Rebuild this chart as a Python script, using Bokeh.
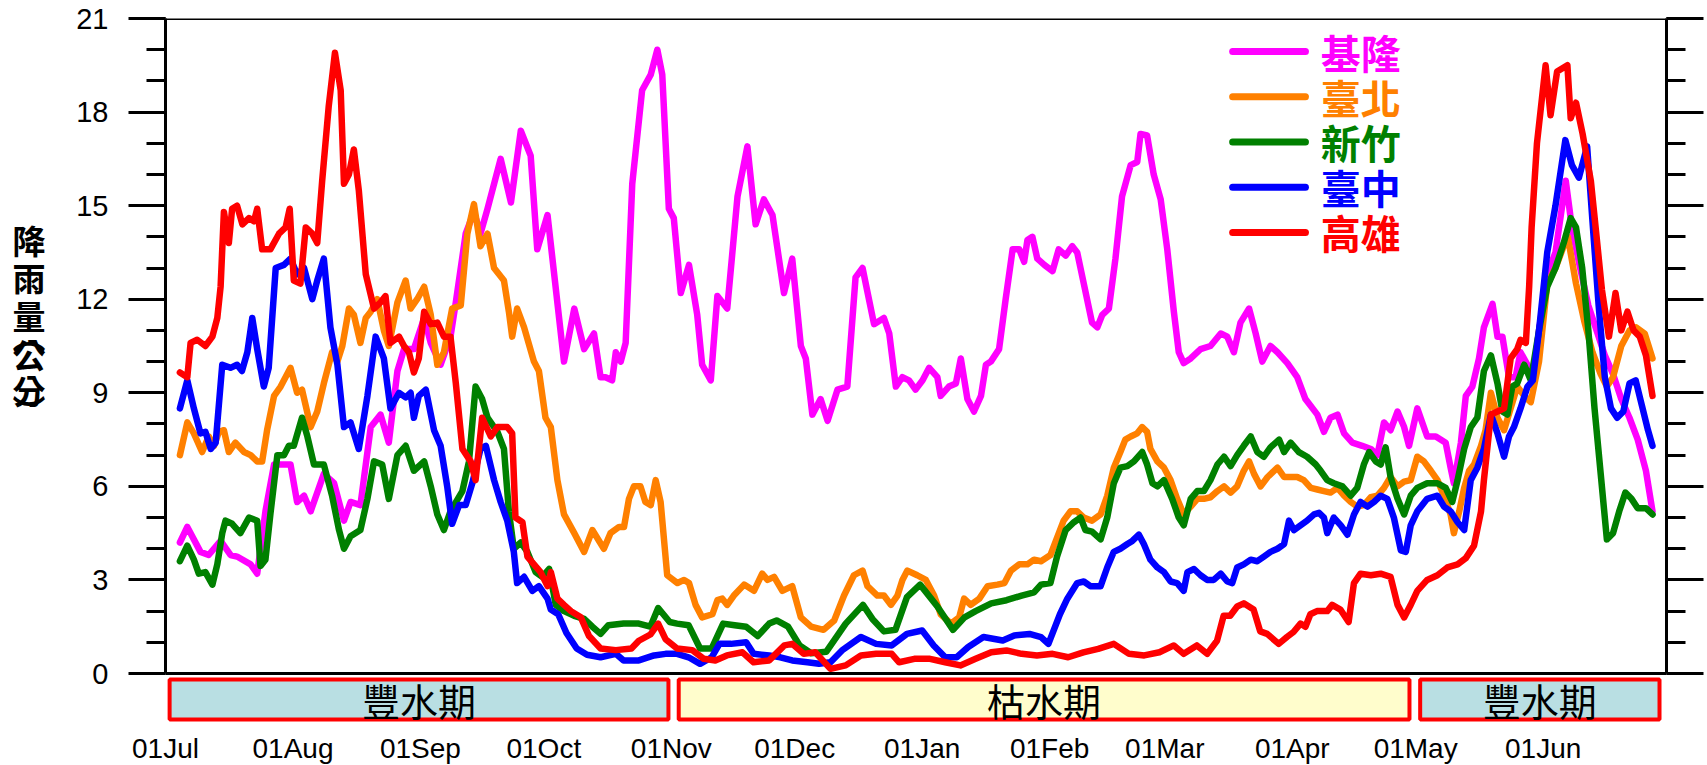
from bokeh.plotting import figure
from bokeh.models import (LinearAxis, FixedTicker, Span, Range1d, AllLabels,
                          CustomJSTickFormatter)
from bokeh.core.properties import value
from bokeh.embed import file_html
from bokeh.resources import INLINE

# ---------------- data ----------------
month_ticks = [0, 31, 62, 92, 123, 153, 184, 215, 243, 274, 304, 335]
month_labels = ["01Jul", "01Aug", "01Sep", "01Oct", "01Nov", "01Dec",
                "01Jan", "01Feb", "01Mar", "01Apr", "01May", "01Jun"]
y_ticks = [0, 3, 6, 9, 12, 15, 18, 21]
# y title 降雨量(公分) written vertically (brackets in vertical form)
y_title_chars = ["降", "雨", "量", "︵", "公", "分", "︶"]

station_names = ["基隆", "臺北", "新竹", "臺中", "高雄"]
station_colors = ["#ff00ff", "#ff8000", "#008000", "#0000ff", "#ff0000"]

season_names = ["豐水期", "枯水期", "豐水期"]
season_start = [1.0, 124.8, 305.1]
season_end = [122.3, 302.5, 363.3]
season_fill = ["#b9dfe3", "#fffdcc", "#b9dfe3"]

keelung_day = [3.5, 5.3, 8.5, 10.5, 13.4, 15.8, 17.4, 20.7, 22.3, 24.3, 26.4, 30.4, 32.0, 33.7, 35.3, 38.5, 41.0, 43.4, 45.0, 47.4, 49.9, 52.3, 54.3, 56.4, 58.0, 60.4, 62.9, 64.5, 66.9, 69.3, 70.6, 73.0, 75.0, 76.6, 78.3, 81.5, 84.0, 86.4, 88.8, 90.4, 92.9, 96.9, 99.4, 101.8, 104.2, 105.8, 107.0, 108.6, 109.5, 110.7, 111.9, 113.5, 115.9, 118.0, 119.6, 120.8, 122.4, 123.6, 125.3, 127.3, 129.3, 130.5, 132.6, 134.2, 136.6, 139.1, 141.5, 143.5, 145.5, 147.6, 150.4, 152.4, 154.5, 155.7, 157.3, 159.3, 161.0, 163.4, 165.8, 167.8, 169.5, 172.3, 174.7, 176.0, 177.6, 179.2, 180.8, 182.4, 184.1, 185.7, 187.7, 188.5, 190.5, 192.2, 193.4, 195.0, 196.6, 198.3, 199.5, 200.7, 202.7, 204.3, 206.0, 207.6, 208.8, 209.6, 210.8, 212.0, 213.7, 215.7, 217.2, 218.9, 220.5, 221.7, 223.3, 225.3, 226.6, 227.8, 229.4, 231.0, 232.6, 234.7, 236.3, 237.1, 238.7, 240.3, 242.0, 243.6, 245.2, 246.4, 247.6, 249.3, 251.7, 254.1, 256.6, 258.2, 259.8, 261.4, 263.5, 265.1, 266.7, 268.7, 270.4, 272.8, 275.2, 277.2, 280.1, 281.7, 283.3, 285.0, 286.6, 288.6, 291.0, 293.1, 294.7, 296.3, 297.9, 299.6, 301.2, 302.4, 304.4, 306.8, 308.9, 311.3, 312.5, 313.3, 315.0, 316.2, 317.8, 319.4, 320.6, 322.7, 323.9, 325.1, 326.7, 328.3, 329.5, 331.2, 332.5, 334.0, 336.0, 338.0, 340.5, 342.0, 344.0, 346.0, 348.0, 350.0, 352.0, 354.0, 356.0, 358.0, 360.0, 361.6]
keelung_rain = [4.2, 4.7, 3.9, 3.8, 4.25, 3.8, 3.75, 3.5, 3.2, 5.2, 6.7, 6.7, 5.5, 5.7, 5.2, 6.4, 6.1, 4.9, 5.5, 5.4, 7.9, 8.3, 7.4, 9.7, 10.4, 10.4, 11.4, 10.6, 9.9, 10.8, 11.9, 14.1, 14.8, 14.1, 14.9, 16.5, 15.1, 17.4, 16.6, 13.6, 14.7, 10.0, 11.7, 10.4, 10.9, 9.5, 9.5, 9.4, 10.3, 10.0, 10.6, 15.7, 18.7, 19.2, 20.0, 19.2, 14.9, 14.6, 12.2, 13.1, 11.5, 9.9, 9.4, 12.1, 11.7, 15.3, 16.9, 14.4, 15.2, 14.7, 12.2, 13.3, 10.5, 10.1, 8.3, 8.8, 8.1, 9.1, 9.2, 12.7, 13.0, 11.2, 11.4, 10.9, 9.2, 9.5, 9.4, 9.1, 9.4, 9.8, 9.5, 8.9, 9.2, 9.3, 10.1, 8.8, 8.4, 8.9, 9.9, 10.0, 10.4, 12.0, 13.6, 13.6, 13.2, 13.9, 14.0, 13.3, 13.1, 12.9, 13.6, 13.4, 13.7, 13.5, 12.5, 11.25, 11.1, 11.5, 11.7, 13.3, 15.3, 16.3, 16.4, 17.3, 17.25, 16.0, 15.2, 13.6, 11.6, 10.3, 9.95, 10.1, 10.4, 10.5, 10.9, 10.8, 10.3, 11.25, 11.7, 10.9, 10.0, 10.5, 10.3, 9.95, 9.5, 8.8, 8.3, 7.75, 8.2, 8.3, 7.7, 7.4, 7.3, 7.2, 7.0, 8.05, 7.8, 8.4, 7.9, 7.3, 8.5, 7.6, 7.6, 7.4, 6.6, 6.1, 7.4, 8.9, 9.2, 10.1, 11.1, 11.85, 10.8, 10.8, 9.5, 9.5, 10.3, 9.9, 9.4, 11.0, 12.8, 13.5, 15.8, 14.3, 13.0, 11.8, 11.0, 10.2, 9.6, 8.8, 8.2, 7.5, 6.5, 5.2]

taipei_day = [3.5, 5.3, 6.9, 8.9, 10.5, 11.8, 13.0, 14.2, 15.4, 17.0, 19.1, 20.7, 22.3, 23.5, 24.7, 26.4, 28.0, 30.4, 32.0, 33.2, 35.3, 36.9, 38.5, 40.5, 41.8, 43.0, 44.6, 45.8, 47.4, 48.7, 49.9, 51.5, 53.1, 54.3, 56.4, 58.4, 59.6, 61.2, 62.9, 64.5, 66.1, 67.7, 69.7, 71.8, 73.4, 75.0, 76.6, 78.3, 79.9, 82.3, 83.5, 84.3, 85.5, 87.2, 89.6, 90.8, 92.4, 93.7, 95.3, 96.9, 99.4, 101.8, 103.8, 106.6, 108.2, 110.3, 111.5, 112.7, 113.9, 115.5, 116.7, 118.0, 119.2, 120.4, 122.0, 124.5, 126.1, 127.3, 128.9, 130.5, 133.0, 134.2, 135.4, 136.6, 138.2, 140.7, 143.1, 145.1, 146.4, 148.0, 150.0, 152.4, 154.5, 157.0, 160.0, 162.6, 165.0, 167.4, 169.5, 170.7, 173.1, 174.7, 176.4, 178.0, 179.2, 180.4, 182.8, 184.9, 186.9, 188.5, 191.0, 193.0, 194.2, 195.8, 197.9, 199.9, 202.3, 204.0, 205.6, 207.6, 209.6, 211.2, 212.9, 215.2, 218.4, 220.1, 221.7, 223.3, 225.3, 227.4, 229.0, 230.6, 232.2, 233.4, 234.7, 236.3, 237.5, 238.7, 239.5, 241.2, 242.8, 244.4, 246.0, 247.6, 249.3, 250.9, 252.5, 254.1, 255.8, 257.4, 259.0, 260.6, 262.2, 263.5, 264.7, 266.3, 268.0, 270.4, 272.0, 273.6, 275.2, 276.8, 278.5, 280.1, 281.7, 283.3, 285.0, 286.6, 288.2, 289.8, 291.4, 293.1, 294.7, 296.3, 297.9, 299.6, 301.2, 302.8, 304.4, 306.0, 307.7, 309.3, 310.9, 312.5, 313.3, 314.6, 315.8, 317.0, 318.2, 319.9, 321.0, 322.3, 323.9, 325.5, 327.1, 328.7, 330.4, 332.0, 334.0, 336.0, 338.0, 340.0, 341.0, 343.0, 345.0, 347.0, 349.0, 350.5, 352.0, 354.0, 356.0, 357.6, 359.7, 361.6]
taipei_rain = [7.0, 8.05, 7.7, 7.1, 7.6, 7.3, 7.75, 7.8, 7.1, 7.4, 7.1, 7.0, 6.8, 6.8, 7.8, 8.9, 9.2, 9.8, 9.0, 9.1, 7.9, 8.4, 9.3, 10.3, 10.0, 10.5, 11.7, 11.5, 10.6, 11.4, 11.6, 12.0, 11.0, 10.5, 11.9, 12.6, 11.7, 12.0, 12.4, 11.5, 9.9, 10.3, 11.7, 11.8, 14.1, 15.05, 13.7, 14.1, 13.0, 12.6, 11.6, 10.8, 11.7, 11.1, 10.0, 9.7, 8.2, 7.9, 6.2, 5.1, 4.5, 3.9, 4.6, 4.0, 4.5, 4.7, 4.7, 5.6, 6.0, 6.0, 5.5, 5.4, 6.2, 5.5, 3.15, 2.9, 3.0, 2.9, 2.2, 1.8, 1.9, 2.35, 2.4, 2.2, 2.5, 2.85, 2.65, 3.2, 3.0, 3.1, 2.65, 2.8, 1.8, 1.5, 1.4, 1.7, 2.5, 3.15, 3.3, 2.8, 2.5, 2.5, 2.2, 2.5, 3.0, 3.3, 3.15, 3.0, 2.5, 1.9, 1.6, 1.8, 2.4, 2.2, 2.4, 2.8, 2.85, 2.9, 3.3, 3.5, 3.5, 3.65, 3.6, 3.8, 4.9, 5.2, 5.2, 5.0, 4.9, 5.1, 5.7, 6.6, 7.1, 7.5, 7.6, 7.7, 7.9, 7.75, 7.2, 6.8, 6.6, 6.2, 5.6, 5.1, 5.35, 5.6, 5.6, 5.65, 5.85, 6.0, 5.8, 6.0, 6.5, 6.8, 6.4, 6.0, 6.3, 6.6, 6.3, 6.3, 6.3, 6.2, 5.95, 5.9, 5.85, 5.8, 5.95, 5.7, 5.5, 5.35, 5.4, 5.65, 5.7, 5.95, 6.3, 6.0, 6.15, 6.2, 6.95, 6.8, 6.5, 6.2, 5.7, 5.1, 4.5, 5.2, 5.95, 6.5, 6.7, 7.3, 7.8, 9.0, 8.2, 7.8, 8.5, 9.2, 8.9, 8.7, 10.0, 12.5, 13.0, 13.7, 14.0, 12.5, 11.3, 10.3, 9.6, 9.2, 9.5, 10.5, 11.0, 11.1, 10.9, 10.1]

hsinchu_day = [3.5, 5.3, 6.9, 8.1, 9.7, 11.4, 12.6, 13.8, 14.6, 16.2, 18.2, 20.3, 22.3, 23.1, 24.3, 25.5, 27.2, 28.8, 30.0, 31.2, 33.2, 34.5, 36.1, 38.5, 40.5, 42.2, 43.4, 45.0, 47.4, 49.1, 50.7, 52.7, 54.3, 56.4, 58.4, 60.4, 62.9, 64.5, 66.1, 67.7, 69.3, 72.2, 73.8, 75.4, 77.0, 78.3, 80.7, 82.3, 83.5, 84.7, 86.4, 88.0, 90.0, 91.6, 93.3, 94.9, 96.9, 99.4, 101.8, 103.8, 105.8, 107.7, 111.4, 115.1, 117.9, 119.8, 122.6, 124.4, 127.2, 130.0, 132.8, 135.6, 138.4, 141.2, 144.0, 146.8, 148.6, 151.4, 154.2, 157.0, 160.7, 165.4, 169.6, 171.9, 174.7, 177.5, 180.3, 183.5, 187.7, 191.5, 194.3, 197.0, 200.8, 204.5, 208.2, 211.2, 212.9, 215.2, 216.8, 218.9, 220.9, 222.5, 223.7, 225.3, 227.4, 229.0, 230.6, 232.2, 233.9, 235.5, 237.5, 238.7, 240.0, 241.2, 242.8, 244.8, 246.4, 247.6, 249.3, 250.9, 252.5, 254.1, 255.8, 257.4, 259.0, 260.6, 262.2, 263.9, 265.5, 267.1, 268.7, 270.8, 272.0, 273.6, 275.6, 277.6, 279.7, 280.9, 282.5, 284.1, 286.2, 288.2, 289.8, 291.4, 292.7, 294.3, 295.5, 296.7, 297.9, 299.6, 301.2, 302.8, 304.4, 306.8, 309.3, 311.3, 312.9, 314.2, 315.8, 317.4, 319.0, 320.6, 322.3, 323.9, 325.1, 326.3, 327.5, 328.7, 330.4, 332.0, 334.0, 336.0, 338.0, 340.0, 341.7, 343.0, 344.5, 346.0, 347.5, 349.0, 350.5, 352.0, 353.5, 355.0, 356.5, 358.0, 360.0, 361.6]
hsinchu_rain = [3.6, 4.1, 3.65, 3.2, 3.25, 2.85, 3.5, 4.5, 4.9, 4.8, 4.5, 5.0, 4.9, 3.45, 3.65, 5.1, 7.0, 7.0, 7.3, 7.3, 8.2, 7.6, 6.7, 6.7, 5.7, 4.6, 4.0, 4.4, 4.6, 5.6, 6.8, 6.7, 5.6, 7.0, 7.3, 6.5, 6.8, 6.0, 5.1, 4.6, 5.2, 5.85, 6.8, 9.2, 8.8, 8.2, 7.75, 7.2, 5.2, 4.0, 4.2, 3.9, 3.25, 3.1, 3.35, 2.2, 2.0, 1.85, 1.75, 1.5, 1.27, 1.55, 1.6, 1.6, 1.5, 2.1, 1.65, 1.6, 1.55, 0.8, 0.8, 1.6, 1.55, 1.5, 1.2, 1.6, 1.7, 1.5, 0.9, 0.65, 0.7, 1.6, 2.2, 1.75, 1.35, 1.4, 2.45, 2.85, 2.15, 1.4, 1.8, 2.0, 2.25, 2.35, 2.5, 2.6, 2.85, 2.9, 3.75, 4.6, 4.85, 5.0, 4.6, 4.55, 4.3, 5.0, 6.1, 6.6, 6.65, 6.8, 7.1, 6.7, 6.1, 6.0, 6.2, 5.6, 5.0, 4.75, 5.6, 5.85, 5.85, 6.2, 6.7, 6.95, 6.65, 7.0, 7.3, 7.6, 7.1, 6.95, 7.25, 7.5, 7.1, 7.4, 7.1, 6.95, 6.7, 6.5, 6.2, 6.1, 6.0, 5.7, 5.95, 6.7, 7.1, 6.8, 6.7, 7.25, 6.3, 5.6, 5.1, 5.7, 5.95, 6.1, 6.1, 5.95, 5.5, 6.2, 7.2, 7.9, 8.2, 9.7, 10.2, 9.3, 8.4, 8.3, 9.2, 9.3, 9.9, 9.4, 11.0, 12.4, 13.0, 13.8, 14.6, 14.3, 13.0, 11.0, 8.5, 6.4, 4.3, 4.5, 5.2, 5.8, 5.6, 5.3, 5.3, 5.1]

taichung_day = [3.5, 5.3, 6.9, 8.5, 9.7, 11.0, 12.2, 13.8, 15.8, 17.4, 18.6, 19.9, 21.1, 22.3, 23.9, 25.1, 26.8, 28.8, 30.4, 32.0, 33.7, 35.7, 36.9, 38.5, 40.1, 41.8, 43.4, 45.0, 47.0, 49.1, 51.1, 53.1, 54.7, 56.8, 58.4, 59.6, 60.4, 61.6, 63.3, 65.3, 66.9, 68.5, 69.7, 71.4, 73.0, 74.6, 76.6, 77.9, 79.9, 81.5, 83.1, 84.7, 85.5, 87.2, 89.2, 90.8, 92.9, 93.7, 95.5, 97.5, 100.0, 102.5, 105.8, 109.5, 111.4, 115.1, 118.8, 121.6, 124.4, 127.2, 130.0, 132.8, 134.7, 137.5, 141.2, 143.0, 146.8, 149.5, 152.4, 156.1, 158.9, 161.7, 164.5, 169.1, 172.8, 176.6, 180.3, 184.0, 186.8, 189.6, 192.4, 195.2, 198.9, 203.6, 206.4, 210.1, 212.9, 214.7, 217.5, 219.3, 221.7, 223.3, 224.9, 227.4, 229.0, 230.6, 232.2, 233.9, 235.1, 236.7, 237.9, 239.5, 241.2, 242.8, 244.4, 246.0, 247.6, 248.5, 250.1, 251.7, 253.3, 254.9, 256.6, 258.2, 259.4, 260.6, 262.2, 263.9, 265.5, 267.1, 268.7, 270.4, 272.0, 273.2, 274.4, 276.0, 277.6, 279.3, 280.5, 281.7, 282.5, 284.1, 285.8, 287.4, 289.0, 290.6, 292.3, 293.9, 295.5, 297.1, 298.7, 300.4, 301.6, 302.8, 304.4, 306.8, 309.3, 310.9, 312.5, 314.2, 315.8, 317.4, 319.0, 320.6, 322.3, 323.9, 325.5, 326.7, 327.9, 329.5, 331.2, 332.5, 334.0, 336.0, 338.0, 340.4, 342.0, 343.7, 345.7, 347.0, 348.5, 350.0, 351.5, 353.0, 354.5, 356.0, 357.5, 359.0, 360.5, 361.6]
taichung_rain = [8.5, 9.4, 8.5, 7.7, 7.75, 7.2, 7.4, 9.9, 9.8, 9.9, 9.7, 10.3, 11.4, 10.4, 9.2, 9.8, 13.0, 13.1, 13.3, 12.8, 13.0, 12.0, 12.6, 13.3, 11.1, 9.9, 7.9, 8.05, 7.2, 8.9, 10.8, 10.1, 8.5, 9.0, 8.85, 9.0, 8.2, 8.9, 9.1, 7.8, 7.3, 6.0, 4.8, 5.4, 5.4, 6.1, 7.2, 7.3, 6.2, 5.5, 4.9, 3.9, 2.9, 3.1, 2.65, 2.8, 2.4, 2.05, 1.9, 1.3, 0.8, 0.6, 0.52, 0.63, 0.42, 0.42, 0.58, 0.63, 0.63, 0.52, 0.31, 0.52, 0.95, 0.95, 1.0, 0.63, 0.58, 0.52, 0.42, 0.36, 0.31, 0.36, 0.74, 1.17, 0.95, 0.9, 1.27, 1.38, 0.9, 0.52, 0.52, 0.85, 1.17, 1.06, 1.22, 1.27, 1.17, 0.95, 1.9, 2.4, 2.9, 2.95, 2.8, 2.8, 3.4, 3.9, 4.0, 4.15, 4.25, 4.45, 4.15, 3.65, 3.4, 3.25, 2.95, 2.9, 2.65, 3.25, 3.35, 3.15, 3.0, 3.0, 3.2, 2.95, 2.9, 3.4, 3.5, 3.65, 3.6, 3.75, 3.9, 4.0, 4.15, 4.9, 4.6, 4.75, 4.9, 5.1, 5.15, 5.0, 4.5, 5.0, 4.75, 4.45, 5.1, 5.5, 5.35, 5.5, 5.7, 5.6, 5.0, 3.95, 3.9, 4.75, 5.2, 5.6, 5.7, 5.35, 5.2, 4.85, 4.6, 6.2, 6.6, 7.2, 8.3, 7.7, 6.95, 7.6, 7.9, 8.5, 9.2, 9.4, 11.0, 13.5, 15.0, 17.1, 16.3, 15.9, 16.9, 14.5, 11.8, 9.5, 8.5, 8.2, 8.4, 9.3, 9.4, 8.6, 7.8, 7.3]

kaohsiung_day = [3.5, 5.3, 6.1, 7.7, 9.7, 11.4, 12.6, 13.4, 14.2, 15.4, 16.2, 17.4, 18.7, 20.3, 21.5, 22.3, 23.5, 25.5, 27.6, 29.2, 30.2, 31.2, 32.8, 34.1, 35.7, 36.9, 38.1, 39.7, 41.2, 42.6, 43.4, 44.6, 45.8, 47.0, 48.7, 50.7, 52.3, 53.5, 54.7, 56.8, 58.0, 59.2, 60.4, 61.6, 62.9, 64.5, 66.1, 67.7, 69.3, 70.6, 72.2, 74.2, 75.4, 77.0, 79.1, 80.7, 83.1, 84.3, 85.1, 86.8, 88.0, 89.6, 91.2, 92.9, 93.7, 95.3, 96.9, 98.6, 101.0, 103.0, 105.8, 109.5, 113.3, 115.1, 117.9, 119.8, 121.6, 124.4, 128.1, 130.9, 133.7, 136.5, 140.3, 143.0, 146.8, 150.5, 152.4, 155.2, 158.0, 161.7, 165.4, 169.1, 172.8, 176.6, 178.4, 182.1, 185.9, 189.6, 193.3, 197.0, 200.8, 204.5, 208.2, 211.9, 215.7, 219.5, 223.2, 226.8, 230.6, 234.3, 238.0, 241.7, 245.2, 247.6, 250.8, 253.3, 255.7, 257.3, 258.9, 260.6, 262.2, 264.6, 266.2, 267.9, 270.7, 272.7, 274.3, 276.0, 277.2, 278.4, 280.0, 282.5, 283.7, 285.7, 287.7, 289.0, 290.6, 293.1, 295.5, 297.9, 299.6, 301.2, 302.8, 304.4, 306.8, 309.3, 311.7, 314.2, 316.2, 318.2, 319.9, 320.6, 322.3, 323.9, 325.5, 327.1, 328.7, 329.5, 330.8, 331.6, 332.2, 333.5, 335.6, 336.8, 338.4, 340.9, 341.7, 343.0, 344.6, 346.6, 348.0, 349.3, 351.0, 352.6, 354.0, 355.5, 357.0, 358.5, 360.0, 361.6]
kaohsiung_rain = [9.65, 9.5, 10.6, 10.7, 10.5, 10.8, 11.4, 12.4, 14.8, 13.8, 14.9, 15.0, 14.4, 14.6, 14.5, 14.9, 13.6, 13.6, 14.1, 14.3, 14.9, 12.6, 12.5, 14.3, 14.1, 13.8, 15.8, 18.2, 19.9, 18.7, 15.7, 16.0, 16.8, 15.5, 12.8, 11.7, 11.9, 12.1, 10.6, 10.8, 10.5, 10.3, 9.65, 10.1, 11.6, 11.2, 11.25, 10.8, 10.8, 9.3, 7.2, 6.8, 6.2, 8.2, 7.6, 7.9, 7.9, 7.7, 5.0, 4.85, 3.75, 3.5, 3.25, 2.8, 3.25, 2.4, 2.2, 2.0, 1.8, 1.2, 0.8, 0.75, 0.8, 1.05, 1.25, 1.6, 1.1, 0.8, 0.75, 0.47, 0.42, 0.58, 0.68, 0.36, 0.42, 0.9, 0.95, 0.63, 0.68, 0.15, 0.26, 0.58, 0.63, 0.63, 0.36, 0.47, 0.47, 0.36, 0.26, 0.47, 0.68, 0.74, 0.63, 0.58, 0.63, 0.52, 0.68, 0.79, 0.95, 0.63, 0.58, 0.68, 0.9, 0.63, 0.9, 0.63, 1.05, 1.85, 1.85, 2.15, 2.25, 2.05, 1.35, 1.27, 0.95, 1.17, 1.33, 1.6, 1.5, 1.9, 2.0, 2.0, 2.2, 2.05, 1.65, 2.9, 3.2, 3.15, 3.2, 3.1, 2.2, 1.8, 2.2, 2.65, 3.0, 3.15, 3.4, 3.5, 3.7, 4.1, 5.2, 6.2, 8.3, 8.4, 8.5, 10.1, 10.4, 10.7, 10.6, 12.4, 14.3, 17.0, 19.5, 17.9, 19.3, 19.5, 17.8, 18.3, 17.3, 15.8, 14.0, 12.3, 10.8, 12.2, 11.0, 11.6, 11.0, 10.8, 10.2, 8.9]

station_days = [keelung_day, taipei_day, hsinchu_day, taichung_day, kaohsiung_day]
station_rain = [keelung_rain, taipei_rain, hsinchu_rain, taichung_rain, kaohsiung_rain]

# ---------------- figure ----------------
Y_BOTTOM = -1.667
p = figure(frame_width=1501, frame_height=707,
           x_range=Range1d(0, 365), y_range=Range1d(Y_BOTTOM, 21),
           output_backend="svg", toolbar_location=None,
           min_border_left=165, min_border_right=41,
           min_border_top=18, min_border_bottom=40)
p.outline_line_color = None
p.xgrid.visible = False
p.ygrid.visible = False

NUM_FONT = "Liberation Sans"
CJK_FONT = "Noto Sans CJK TC"

# left axis
ya = p.yaxis[0]
ya.ticker = FixedTicker(ticks=y_ticks, minor_ticks=list(range(0, 22)))
ya.bounds = (0, 21)
ya.axis_line_width = 3
ya.major_tick_line_width = 3
ya.minor_tick_line_width = 3
ya.major_tick_out = 37
ya.major_tick_in = 0
ya.minor_tick_out = 19
ya.minor_tick_in = 0
ya.major_label_text_font = NUM_FONT
ya.major_label_text_font_size = "29px"
ya.major_label_text_color = "black"
ya.major_label_standoff = 20

# y title: an outer left axis whose labels are the upright title characters
TITLE_POS = [13.9, 12.7, 11.5, 10.85, 10.25, 9.1, 8.45]   # layout (data y)
ta = LinearAxis(ticker=FixedTicker(ticks=TITLE_POS, minor_ticks=[]),
                major_label_overrides={t: c for t, c in zip(TITLE_POS, y_title_chars)},
                major_label_policy=AllLabels())
ta.axis_line_color = None
ta.major_tick_line_color = None
ta.minor_tick_line_color = None
ta.major_tick_out = 0
ta.major_tick_in = 0
ta.major_label_standoff = 28
ta.major_label_text_font = CJK_FONT
ta.major_label_text_font_style = "bold"
ta.major_label_text_font_size = "33px"
ta.major_label_text_color = "black"
p.add_layout(ta, "left")

# right axis (ticks only)
ra = LinearAxis(ticker=FixedTicker(ticks=y_ticks, minor_ticks=list(range(0, 22))),
                bounds=(0, 21),
                formatter=CustomJSTickFormatter(code="return ''"))
ra.axis_line_width = 3
ra.major_tick_line_width = 3
ra.minor_tick_line_width = 3
ra.major_tick_out = 37
ra.major_tick_in = 0
ra.minor_tick_out = 19
ra.minor_tick_in = 0
ra.major_label_standoff = 0
p.add_layout(ra, "right")

# bottom axis: labels only
xa = p.xaxis[0]
xa.ticker = FixedTicker(ticks=month_ticks, minor_ticks=[])
xa.major_label_overrides = {t: l for t, l in zip(month_ticks, month_labels)}
xa.axis_line_color = None
xa.major_tick_line_color = None
xa.minor_tick_line_color = None
xa.major_tick_out = 0
xa.major_tick_in = 0
xa.major_label_text_font = NUM_FONT
xa.major_label_text_font_size = "28px"
xa.major_label_text_color = "black"
xa.major_label_standoff = 7

# frame top and zero lines
p.add_layout(Span(location=21, dimension="width", line_color="black", line_width=3))
p.add_layout(Span(location=0, dimension="width", line_color="black", line_width=3))

# season boxes
BOX_TOP, BOX_BOTTOM = -0.19, -1.475
p.quad(left=season_start, right=season_end, top=BOX_TOP, bottom=BOX_BOTTOM,
       fill_color=season_fill, line_color="#ff0000", line_width=4)
p.text(x=[(a + b) / 2 for a, b in zip(season_start, season_end)],
       y=[(BOX_TOP + BOX_BOTTOM) / 2] * len(season_names),
       text=season_names, text_align="center", text_baseline="middle",
       text_font=value(CJK_FONT), text_font_size="38px", text_color="black")

# series
for d, r, c in zip(station_days, station_rain, station_colors):
    p.line(d, r, line_color=c, line_width=6.5, line_join="round", line_cap="round")

# legend (manual, coloured labels)
LEG_X0, LEG_X1, LEG_TX = 259.5, 277.2, 280.9
LEG_TOP, LEG_STEP = 19.94, 1.45
leg_y = [LEG_TOP - i * LEG_STEP for i in range(len(station_names))]
p.segment(x0=[LEG_X0] * len(leg_y), x1=[LEG_X1] * len(leg_y), y0=leg_y, y1=leg_y,
          line_color=station_colors, line_width=7, line_cap="round")
p.text(x=[LEG_TX] * len(leg_y), y=leg_y, text=station_names, text_color=station_colors,
       text_align="left", text_baseline="middle", text_font=value(CJK_FONT),
       text_font_size="40px", text_font_style="bold")

open("out.html", "w").write(file_html(p, INLINE))
